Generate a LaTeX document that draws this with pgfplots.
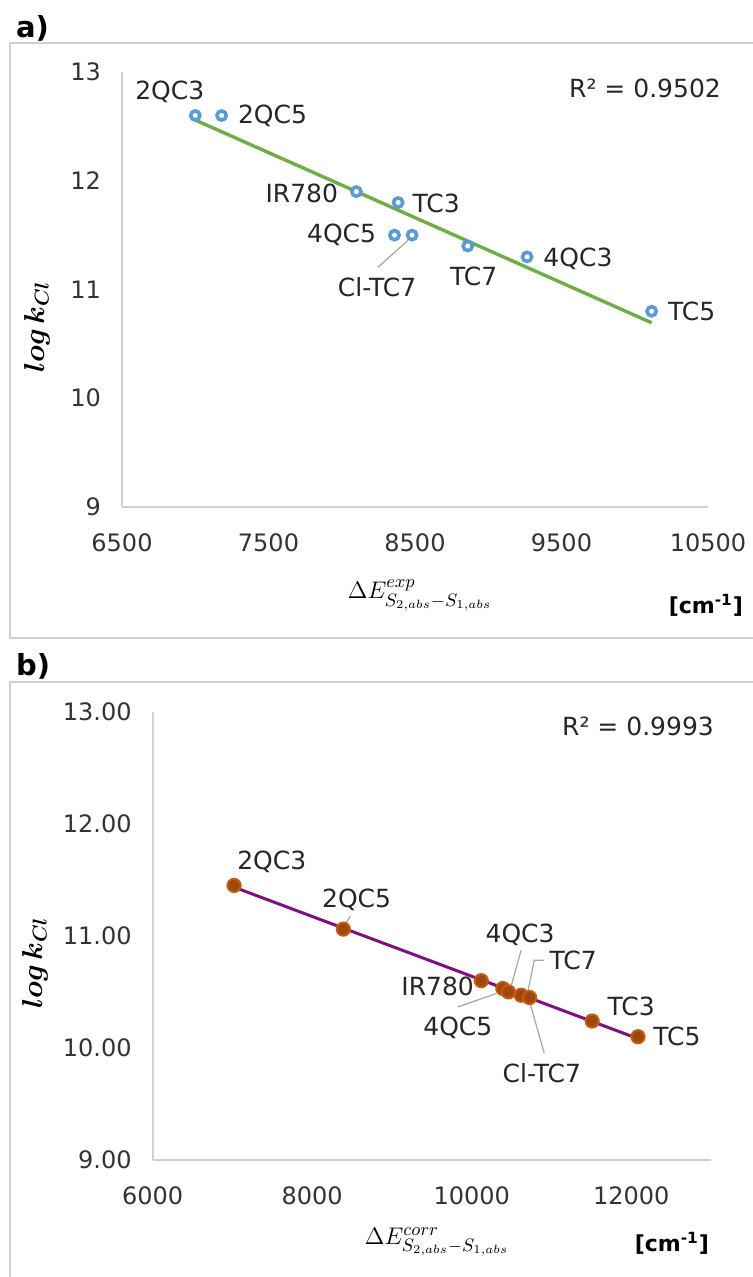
\documentclass[border=0pt]{standalone}
\usepackage{pgfplots}
\pgfplotsset{compat=1.18}
\usepackage{pgfplotstable}
\usepackage{bm}
\usepackage{fontspec}
\setmainfont{DejaVu Sans}

\definecolor{ptblue}{HTML}{5B9BD5}
\definecolor{trgreen}{HTML}{70AD47}
\definecolor{ptbrown}{HTML}{9E480E}
\definecolor{ptedge}{HTML}{C55A11}
\definecolor{trpurple}{HTML}{7F0F7E}
\definecolor{frame}{HTML}{D0D0D0}
\definecolor{lead}{HTML}{A6A6A6}

% a) experimental gap vs log k
\pgfplotstableread{
x y
7000 12.6
7180 12.6
8100 11.9
8360 11.5
8385 11.8
8480 11.5
8860 11.4
9265 11.3
10115 10.8
}\dataA

% b) corrected gap vs log k
\pgfplotstableread{
x y
7020 11.45
8390 11.06
10120 10.60
10390 10.53
10460 10.50
10620 10.47
10725 10.45
11510 10.24
12085 10.10
}\dataB

\pgfplotsset{
  xlchart/.style={
    scale only axis,
    axis lines*=left,
    axis line style={-, draw=black!18, line width=1pt},
    major tick length=0pt,
    tick style={draw=none},
    ticklabel style={font=\fontsize{12}{14}\selectfont, text=black!80},
    /pgf/number format/assume math mode=true,
    /pgf/number format/1000 sep={},
    scaled x ticks=false,
    scaled y ticks=false,
    yticklabel style={xshift=-7pt},
    xticklabel style={yshift=-10pt},
    clip=false,
  },
}
\tikzset{lbl/.style={font=\fontsize{12.5}{14}\selectfont, text=black!85, inner sep=0pt}}
\newcommand{\ylab}{$\bm{log\,k_{Cl}}$}

\begin{document}
\begin{tikzpicture}
\path[use as bounding box] (0pt,0pt) rectangle (376.5pt,-638.5pt);

% chart frames
\draw[frame, line width=0.6pt] (5pt,-21.5pt) rectangle (380pt,-319pt);
\draw[frame, line width=0.6pt] (5pt,-341pt) rectangle (380pt,-645pt);
\node[anchor=west, font=\fontsize{14.5}{16}\selectfont\bfseries] at (4.5pt,-14pt) {a)};
\node[anchor=west, font=\fontsize{14.5}{16}\selectfont\bfseries] at (4.5pt,-333pt) {b)};

% ---------- a) ----------
\begin{axis}[xlchart,
  at={(61pt,-253.5pt)}, anchor=south west,
  width=293pt, height=217.5pt,
  xmin=6500, xmax=10500, ymin=9, ymax=13,
  xtick={6500,7500,8500,9500,10500},
  ytick={9,10,11,12,13},
]
\addplot[only marks, mark=*, mark size=2.3pt,
  mark options={draw=ptblue, fill=white, line width=1.8pt}]
  table[x=x, y=y] {\dataA};
\addplot[trgreen, line width=1.7pt, no marks]
  table[x=x, y={create col/linear regression={y=y}}] {\dataA};

\node[lbl] at (axis cs:7000,12.6) [xshift=-12.75pt, yshift=12pt] {2QC3};
\node[lbl, anchor=west] at (axis cs:7180,12.6) [xshift=8pt] {2QC5};
\node[lbl, anchor=east] at (axis cs:8100,11.9) [xshift=-9pt, yshift=-1pt] {IR780};
\node[lbl, anchor=west] at (axis cs:8385,11.8) [xshift=7pt, yshift=-0.5pt] {TC3};
\node[lbl, anchor=east] at (axis cs:8360,11.5) [xshift=-9pt] {4QC5};
\draw[lead, line width=0.6pt] (axis cs:8480,11.5) ++(-2pt,-2.6pt) -- ++(-15pt,-13.4pt);
\node[lbl] at (axis cs:8480,11.5) [xshift=-17.5pt, yshift=-26pt] {Cl-TC7};
\node[lbl] at (axis cs:8860,11.4) [xshift=3pt, yshift=-15pt] {TC7};
\node[lbl, anchor=west] at (axis cs:9265,11.3) [xshift=8pt, yshift=-1pt] {4QC3};
\node[lbl, anchor=west] at (axis cs:10115,10.8) [xshift=8pt] {TC5};
\end{axis}

\node[lbl] at (322.5pt,-44pt) {R² = 0.9502};
\node[rotate=90, font=\fontsize{14}{16}\selectfont] at (18.5pt,-163.5pt) {\ylab};
\node[font=\fontsize{13}{15}\selectfont] at (210pt,-297.5pt) {$\Delta E^{exp}_{S_{2,abs}-S_{1,abs}}$};
\node[anchor=east, font=\fontsize{11}{13}\selectfont\bfseries] at (375pt,-302.5pt) {[cm\textsuperscript{-1}]};

% ---------- b) ----------
\begin{axis}[xlchart,
  at={(76.35pt,-580pt)}, anchor=south west,
  width=279.15pt, height=224.15pt,
  xmin=6000, xmax=13000, ymin=9, ymax=13,
  xtick={6000,8000,10000,12000},
  ytick={9,10,11,12,13},
  yticklabel style={/pgf/number format/.cd, fixed, fixed zerofill, precision=2},
]
\addplot[only marks, mark=*, mark size=3.3pt,
  mark options={draw=ptedge, fill=ptbrown, line width=1pt}]
  table[x=x, y=y] {\dataB};
\addplot[trpurple, line width=1.5pt, no marks]
  table[x=x, y={create col/linear regression={y=y}}] {\dataB};

\node[lbl] at (axis cs:7020,11.45) [xshift=18.85pt, yshift=12pt] {2QC3};
\draw[lead, line width=0.6pt] (axis cs:8390,11.06) ++(1pt,2.5pt) -- ++(2.5pt,4pt);
\node[lbl] at (axis cs:8390,11.06) [xshift=6.65pt, yshift=14.7pt] {2QC5};
\node[lbl, anchor=east] at (axis cs:10120,10.60) [xshift=-3.5pt, yshift=-2.85pt] {IR780};
\draw[lead, line width=0.6pt] (axis cs:10390,10.53) ++(-3.25pt,-2.5pt) -- ++(-19.25pt,-6.7pt);
\node[lbl] at (axis cs:10390,10.53) [xshift=-22.5pt, yshift=-19.85pt] {4QC5};
\draw[lead, line width=0.6pt] (axis cs:10460,10.50) ++(1.35pt,2.85pt) -- ++(5pt,18pt);
\node[lbl] at (axis cs:10460,10.50) [xshift=5.85pt, yshift=28.35pt] {4QC3};
\draw[lead, line width=0.6pt] (axis cs:10620,10.47) ++(3.5pt,2.5pt) -- ++(3pt,15pt) -- ++(5pt,0pt);
\node[lbl, anchor=west] at (axis cs:10620,10.47) [xshift=14pt, yshift=17.5pt] {TC7};
\draw[lead, line width=0.6pt] (axis cs:10725,10.45) ++(0pt,-2pt) -- ++(7.35pt,-25.85pt);
\node[lbl] at (axis cs:10725,10.45) [xshift=6.15pt, yshift=-37.85pt] {Cl-TC7};
\node[lbl] at (axis cs:11510,10.24) [xshift=19.5pt, yshift=7.15pt] {TC3};
\node[lbl, anchor=west] at (axis cs:12085,10.10) [xshift=7.5pt] {TC5};
\end{axis}

\node[lbl] at (319pt,-363pt) {R² = 0.9993};
\node[rotate=90, font=\fontsize{14}{16}\selectfont] at (17.5pt,-481.5pt) {\ylab};
\node[font=\fontsize{13}{15}\selectfont] at (218.5pt,-621pt) {$\Delta E^{corr}_{S_{2,abs}-S_{1,abs}}$};
\node[anchor=east, font=\fontsize{11}{13}\selectfont\bfseries] at (358pt,-621.5pt) {[cm\textsuperscript{-1}]};
\end{tikzpicture}
\end{document}
